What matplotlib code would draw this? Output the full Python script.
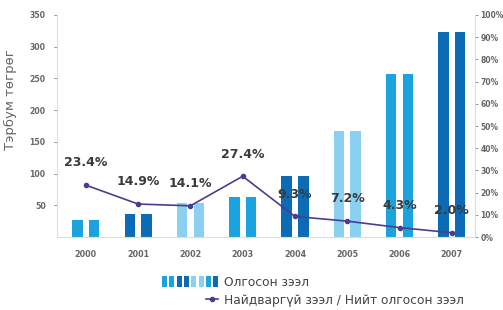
import numpy as np
import matplotlib.pyplot as plt
from matplotlib.patches import Patch
from matplotlib.lines import Line2D
from matplotlib.legend_handler import HandlerTuple

years = ['2000', '2001', '2002', '2003', '2004', '2005', '2006', '2007']
loans = [27, 37, 53, 63, 97, 167, 257, 323]
bad_ratio = [23.4, 14.9, 14.1, 27.4, 9.3, 7.2, 4.3, 2.0]
ratio_labels = ['23.4%', '14.9%', '14.1%', '27.4%', '9.3%', '7.2%', '4.3%', '2.0%']

mid = '#1ba3de'
dark = '#0b6cb5'
light = '#8ad0f0'
bar_colors = [mid, dark, light, mid, dark, light, mid, dark]
line_color = '#4a3d8f'
tick_gray = '#666666'

fig = plt.figure(figsize=(5.03, 3.10), dpi=100)
ax = fig.add_axes([0.113, 0.235, 0.831, 0.717])
x = np.arange(len(years))

# two bars per year
for off in (-0.16, 0.16):
    ax.bar(x + off, loans, width=0.2, color=bar_colors, zorder=2)

ax.set_xlim(-0.555, 7.44)
ax.set_ylim(0, 350)
ax.set_yticks([50, 100, 150, 200, 250, 300, 350])
ax.set_xticks(x)
ax.set_xticklabels(years)
ax.tick_params(axis='y', labelsize=5.6, colors=tick_gray, length=2, width=0.5, pad=6)
ax.tick_params(axis='x', labelsize=5.8, colors=tick_gray, length=0, pad=9)
for lab in ax.get_xticklabels() + ax.get_yticklabels():
    lab.set_fontweight('bold')
for s in ['top', 'right']:
    ax.spines[s].set_visible(False)
for s in ['left', 'bottom']:
    ax.spines[s].set_color('#dddddd')
    ax.spines[s].set_linewidth(0.8)
ax.set_ylabel('Тэрбум төгрөг', fontsize=9.5, color='#666666')
ax.yaxis.set_label_coords(-0.096, 0.617)

ax2 = ax.twinx()
ax2.set_ylim(0, 100)
ax2.set_yticks(np.arange(0, 101, 10))
ax2.set_yticklabels([f'{v}%' for v in range(0, 101, 10)])
ax2.tick_params(axis='y', labelsize=5.5, colors=tick_gray, length=2, width=0.5, pad=2)
for lab in ax2.get_yticklabels():
    lab.set_fontweight('bold')
for s in ['top', 'left', 'bottom']:
    ax2.spines[s].set_visible(False)
ax2.spines['right'].set_color('#dddddd')
ax2.spines['right'].set_linewidth(0.8)

ax2.plot(x, bad_ratio, color=line_color, lw=1.2, marker='o', ms=3, zorder=3)
for xi, yi, t in zip(x, bad_ratio, ratio_labels):
    ax2.annotate(t, (xi, yi), xytext=(0, 16), textcoords='offset points',
                 ha='center', va='center', fontsize=9, fontweight='bold',
                 color='#3a3a3a')

# legend
stripe = [mid, mid, dark, dark, light, light, mid, dark]
bar_handle = tuple(Patch(facecolor=c, edgecolor='none') for c in stripe)
blank = Patch(facecolor='none', edgecolor='none')
line_handle = (blank, blank, blank,
               Line2D([], [], color=line_color, lw=1.2, marker='o', ms=3))
fig.legend([bar_handle, line_handle],
           ['Олгосон зээл', 'Найдваргүй зээл / Нийт олгосон зээл'],
           handler_map={tuple: HandlerTuple(ndivide=None, pad=0.2)},
           loc='upper left', bbox_to_anchor=(0.31, 0.13), frameon=False,
           fontsize=8.8, labelcolor='#444444', handlelength=4.6,
           handleheight=1.0, handletextpad=0.5, labelspacing=0.45, borderpad=0)

fig.savefig('out.png', dpi=100)
